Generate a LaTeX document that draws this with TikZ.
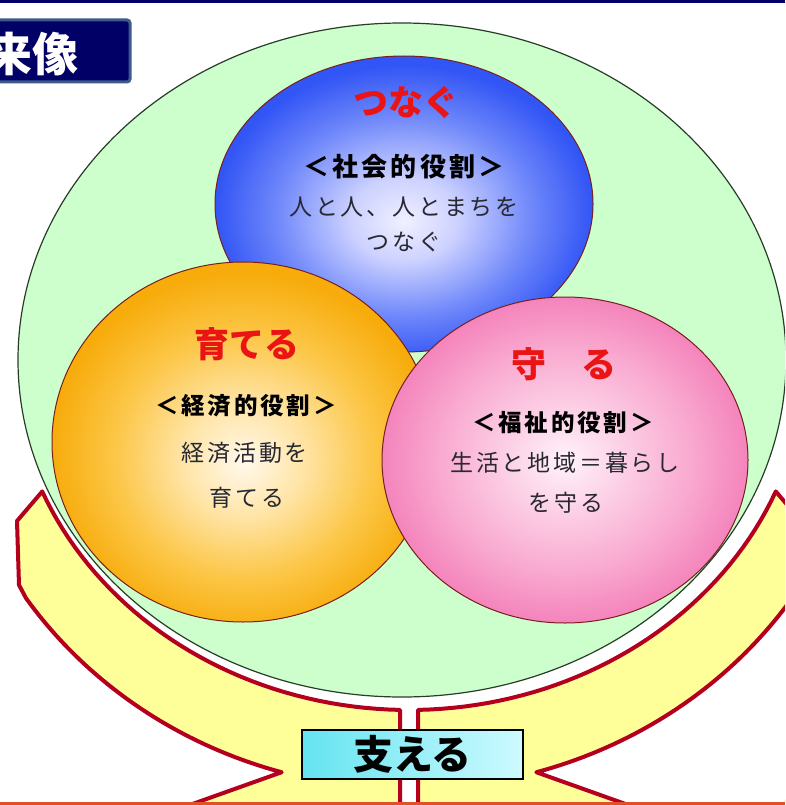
\documentclass[tikz,border=0pt]{standalone}
\usepackage{fontspec}
\newfontfamily\jp{Noto Sans CJK JP}
\newfontfamily\jpwide[LetterSpace=12]{Noto Sans CJK JP}

\definecolor{navy}{RGB}{0,0,102}
\definecolor{titleedge}{RGB}{60,90,140}
\definecolor{ringgreen}{RGB}{204,255,204}
\definecolor{ringline}{RGB}{40,60,40}
\definecolor{rimred}{RGB}{120,30,30}
\definecolor{headred}{RGB}{235,20,20}
\definecolor{textgray}{RGB}{40,40,50}
\definecolor{bandyellow}{RGB}{255,255,153}
\definecolor{bandred}{RGB}{180,0,30}
\definecolor{boxcyan}{RGB}{100,228,240}
\definecolor{boxlight}{RGB}{205,250,255}
\definecolor{bottomred}{RGB}{225,80,40}

% couleurs des trois boules
\definecolor{blueA}{RGB}{240,240,255}
\definecolor{blueB}{RGB}{205,210,255}
\definecolor{blueC}{RGB}{110,135,250}
\definecolor{blueD}{RGB}{50,85,245}
\definecolor{orangeA}{RGB}{255,248,235}
\definecolor{orangeB}{RGB}{255,228,165}
\definecolor{orangeC}{RGB}{252,198,70}
\definecolor{orangeD}{RGB}{247,172,12}
\definecolor{pinkA}{RGB}{255,242,250}
\definecolor{pinkB}{RGB}{252,208,230}
\definecolor{pinkC}{RGB}{249,170,208}
\definecolor{pinkD}{RGB}{244,132,188}

\pgfdeclareradialshading{blueball}{\pgfpoint{0bp}{-3bp}}{color(0bp)=(blueA); color(7bp)=(blueB); color(17bp)=(blueC); color(25bp)=(blueD); color(50bp)=(blueD)}
\pgfdeclareradialshading{orangeball}{\pgfpoint{0bp}{-3bp}}{color(0bp)=(orangeA); color(8bp)=(orangeB); color(17bp)=(orangeC); color(25bp)=(orangeD); color(50bp)=(orangeD)}
\pgfdeclareradialshading{pinkball}{\pgfpoint{0bp}{0bp}}{color(0bp)=(pinkA); color(8bp)=(pinkB); color(17bp)=(pinkC); color(25bp)=(pinkD); color(50bp)=(pinkD)}

% moitie gauche du support
\newcommand{\halfholder}{%
  (400,812) -- (400,710)
  -- plot[domain=91.3:157.5, samples=40] ({409+397*cos(\x)}, {356+354*sin(\x)})
  -- (17,521) -- (19,585)
  -- plot[domain=146:106, samples=40] ({409+462*cos(\x)}, {356+433*sin(\x)})
  -- (170,812) -- cycle}

\begin{document}
\begin{tikzpicture}[x=1pt, y=-1pt,
    heading/.style={font=\jp\bfseries\fontsize{35}{37}\selectfont, text=headred, inner sep=0pt},
    role/.style={font=\jpwide\bfseries\fontsize{23.5}{25}\selectfont, text=black, inner sep=0pt},
    desc/.style={font=\jpwide\fontsize{23}{25}\selectfont, text=textgray, inner sep=0pt},
    band/.style={fill=bandyellow, draw=bandred, line width=4pt, line join=round}]

    % cadre
    \useasboundingbox (0,0) rectangle (785,805);
    \clip (0,0) rectangle (785,805);
    \fill[white] (0,0) rectangle (785,805);

    % grand cercle vert
    \filldraw[fill=ringgreen, draw=ringline, line width=1.2pt] (402,360) ellipse [x radius=384, y radius=337];

    % trois boules
    \shadedraw[shading=blueball, draw=rimred, line width=1pt] (404,204) ellipse [x radius=189, y radius=148];
    \shadedraw[shading=orangeball, draw=rimred, line width=1pt] (243,442) ellipse [x radius=191, y radius=180];
    \shadedraw[shading=pinkball, draw=rimred, line width=1pt] (565,460) ellipse [x radius=183, y radius=163];

    % textes
    \node[heading] (tsunagu) at (406,102) {つなぐ};
    \node[role, font=\jpwide\bfseries\fontsize{26}{28}\selectfont] (social) at (404,167) {＜社会的役割＞};
    \node[desc] (socialA) at (404,207) {人と人、人とまちを};
    \node[desc] (socialB) at (404,242) {つなぐ};

    \node[heading] (sodateru) at (247,344) {育てる};
    \node[role] (economic) at (246,406) {＜経済的役割＞};
    \node[desc] (economicA) at (245,453) {経済活動を};
    \node[desc] (economicB) at (247,498) {育てる};

    \node[heading] (mamoru) at (564,364) {守　る};
    \node[role] (welfare) at (563,423) {＜福祉的役割＞};
    \node[desc] (welfareA) at (565,463) {生活と地域＝暮らし};
    \node[desc] (welfareB) at (566,503) {を守る};

    % support
    \draw[band] \halfholder;
    \begin{scope}[shift={(818,0)}, xscale=-1]
        \draw[band] \halfholder;
    \end{scope}
    \node[draw=black, line width=1.5pt, left color=boxcyan, right color=boxlight,
          minimum width=221pt, minimum height=49pt, inner sep=0pt,
          font=\jp\bfseries\fontsize{40}{42}\selectfont] (support) at (412.5,754.5) {支える};

    % titre
    \node[fill=navy, draw=titleedge, line width=3pt, rounded corners=3pt,
          minimum width=140pt, minimum height=62pt, inner sep=0pt] (titlebox) at (60,51) {};
    \node[text=white, inner sep=0pt, font=\jp\bfseries\fontsize{46}{48}\selectfont] (title) at (33,54) {来像};

    % filets haut et bas
    \fill[navy] (0,0) rectangle (785,3);
    \draw[bottomred, line width=2.5pt] (0,803.5) -- (785,803.5);
\end{tikzpicture}
\end{document}
